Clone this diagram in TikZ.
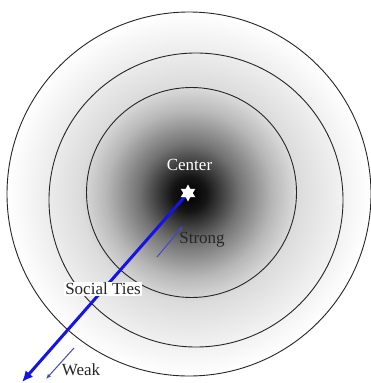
\documentclass[tikz,border=0pt]{standalone}
\usepackage{fontspec}
\setmainfont{Liberation Serif}
\usetikzlibrary{shapes.geometric,arrows.meta,backgrounds}
\pgfdeclareradialshading{tieshade}{\pgfpointorigin}{color(0bp)=(black); color(2.35bp)=(black!92); color(6.9bp)=(black!55); color(11.45bp)=(black!28); color(14.8bp)=(black!14); color(19.75bp)=(black!7); color(25bp)=(white); color(50bp)=(white)}
\definecolor{tieblue}{RGB}{20,20,230}
\definecolor{thinblue}{RGB}{70,70,200}
\tikzset{
  ring/.style={draw=black!85, line width=0.9pt},
  lbl/.style={font=\fontsize{17}{20}\selectfont, inner sep=1pt},
  thinarrow/.style={draw=thinblue, line width=1pt, -{Latex[length=5pt,width=4pt]}},
}
\begin{document}
\begin{tikzpicture}[x=1pt,y=-1pt]
\useasboundingbox (0,0) rectangle (371,383);
\node[star, star points=6, star point ratio=1.8, fill=white, minimum size=17pt, inner sep=0pt] (c) at (188,193) {};
\coordinate (tip) at (22,382);
\coordinate (s1) at (157,257);
\coordinate (s2) at (183,226);
\coordinate (w1) at (74,348);
\coordinate (w2) at (46,379);
\begin{pgfonlayer}{background}
\fill[white] (0,0) rectangle (371,383);
\shade[shading=tieshade] (189,194) circle (182);
\draw[ring] (189,194) circle (182);
\draw[ring] (196,200) circle (147);
\draw[ring] (191.5,192.5) circle (105);
\draw[tieblue, line width=3pt, -{Latex[length=11pt,width=10pt]}] (c.center) -- (tip);
\end{pgfonlayer}
\draw[thinarrow] (s1) -- (s2);
\draw[thinarrow] (w1) -- (w2);
\node[lbl, text=white] (center) at (189.5,165) {Center};
\node[lbl, text=black!85] (strong) at (202,240) {Strong};
\node[lbl, text=black!85, fill=white, inner xsep=1pt, inner ysep=1pt] (ties) at (103,289) {Social Ties};
\node[lbl, text=black!85] (weak) at (81,370) {Weak};
\end{tikzpicture}
\end{document}
